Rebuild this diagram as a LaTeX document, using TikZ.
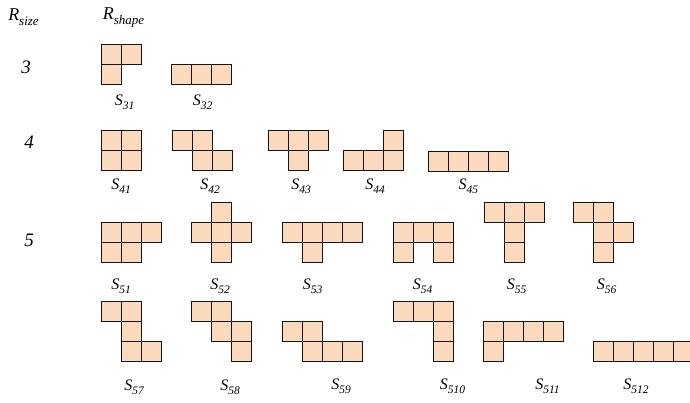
\documentclass[tikz,border=0pt]{standalone}
\usepackage{fontspec}
\setmainfont{Liberation Serif}
\definecolor{peach}{HTML}{FBD9BD}
\definecolor{edge}{HTML}{141414}
\newcommand{\slab}[1]{\fontsize{16}{16}\selectfont\itshape S\raisebox{-4pt}{\fontsize{11.5}{11.5}\selectfont #1}}
\newcommand{\rlab}[1]{\fontsize{18}{18}\selectfont\itshape R\raisebox{-5pt}{\fontsize{13}{13}\selectfont #1}}
\tikzset{
  cellbox/.style={fill=peach, draw=edge, line width=1.35pt},
  shapelabel/.style={inner sep=0pt, anchor=center},
  sizelabel/.style={inner sep=0pt, anchor=center, font=\fontsize{19}{19}\selectfont\itshape},
}
\begin{document}
\begin{tikzpicture}[x=1pt,y=-1pt]
\useasboundingbox (0,0) rectangle (690,403);
% headers
\node[shapelabel] (rsize) at (23.5,17) {\rlab{size}};
\node[shapelabel] (rshape) at (123.5,17) {\rlab{shape}};
\node[sizelabel] (n3) at (26,67) {3};
\node[sizelabel] (n4) at (29,142) {4};
\node[sizelabel] (n5) at (29,240) {5};
% size 3
\foreach \x/\y in {101.5/44.5,121.5/44.5,101.5/64.5,
                   171.5/64.5,191.5/64.5,211.5/64.5}
  \draw[cellbox] (\x,\y) rectangle ++(20,20);
\node[shapelabel] (l31) at (124.5,102) {\slab{31}};
\node[shapelabel] (l32) at (202.5,102) {\slab{32}};
% size 4
\foreach \x/\y in {101.5/130.5,121.5/130.5,101.5/150.5,121.5/150.5,
                   172.5/130.5,192.5/130.5,192.5/150.5,212.5/150.5,
                   268.5/130.5,288.5/130.5,308.5/130.5,288.5/150.5,
                   383.5/130.5,343.5/150.5,363.5/150.5,383.5/150.5,
                   428.5/151.5,448.5/151.5,468.5/151.5,488.5/151.5}
  \draw[cellbox] (\x,\y) rectangle ++(20,20);
\node[shapelabel] (l41) at (121,186) {\slab{41}};
\node[shapelabel] (l42) at (210,186) {\slab{42}};
\node[shapelabel] (l43) at (301,186) {\slab{43}};
\node[shapelabel] (l44) at (375,186) {\slab{44}};
\node[shapelabel] (l45) at (468.3,186) {\slab{45}};
% size 5, first row
\foreach \x/\y in {101.5/222.5,121.5/222.5,141.5/222.5,101.5/242.5,121.5/242.5,
                   211.5/202.5,191.5/222.5,211.5/222.5,231.5/222.5,211.5/242.5,
                   282.5/222.5,302.5/222.5,322.5/222.5,342.5/222.5,302.5/242.5,
                   393.5/222.5,413.5/222.5,433.5/222.5,393.5/242.5,433.5/242.5,
                   484.5/202.5,504.5/202.5,524.5/202.5,504.5/222.5,504.5/242.5,
                   573.5/202.5,593.5/202.5,593.5/222.5,613.5/222.5,593.5/242.5}
  \draw[cellbox] (\x,\y) rectangle ++(20,20);
\node[shapelabel] (l51) at (121,286) {\slab{51}};
\node[shapelabel] (l52) at (220,286) {\slab{52}};
\node[shapelabel] (l53) at (312.5,286) {\slab{53}};
\node[shapelabel] (l54) at (422.5,286) {\slab{54}};
\node[shapelabel] (l55) at (516.7,286) {\slab{55}};
\node[shapelabel] (l56) at (606.7,286) {\slab{56}};
% size 5, second row
\foreach \x/\y in {101.5/301.5,121.5/301.5,121.5/321.5,121.5/341.5,141.5/341.5,
                   191.5/301.5,211.5/301.5,211.5/321.5,231.5/321.5,231.5/341.5,
                   282.5/321.5,302.5/321.5,302.5/341.5,322.5/341.5,342.5/341.5,
                   393.5/301.5,413.5/301.5,433.5/301.5,433.5/321.5,433.5/341.5,
                   483.5/321.5,503.5/321.5,523.5/321.5,543.5/321.5,483.5/341.5,
                   593.5/341.5,613.5/341.5,633.5/341.5,653.5/341.5,673.5/341.5}
  \draw[cellbox] (\x,\y) rectangle ++(20,20);
\node[shapelabel] (l57) at (134,387) {\slab{57}};
\node[shapelabel] (l58) at (230,387) {\slab{58}};
\node[shapelabel] (l59) at (341,386) {\slab{59}};
\node[shapelabel] (l510) at (452.5,386) {\slab{510}};
\node[shapelabel] (l511) at (547.5,386) {\slab{511}};
\node[shapelabel] (l512) at (636,386) {\slab{512}};
\end{tikzpicture}
\end{document}
